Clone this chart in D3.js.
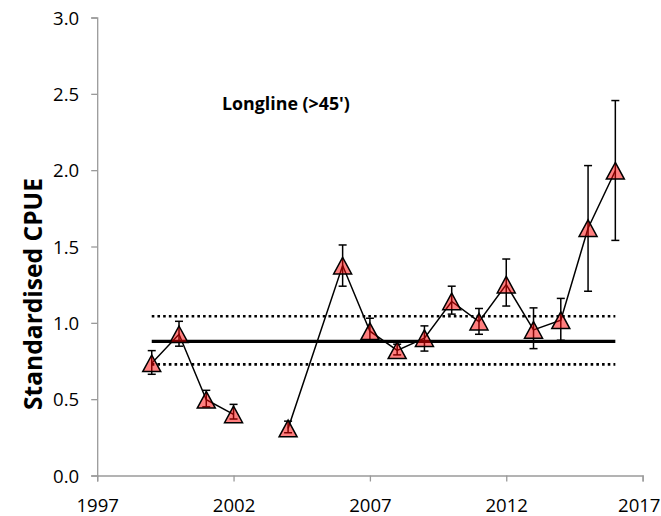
<!DOCTYPE html>
<html><head><meta charset="utf-8">
<script src="https://cdn.jsdelivr.net/npm/d3@7"></script>
<style>body{margin:0;background:#fff}svg{display:block}</style>
</head><body>
<svg id="c" width="661" height="516"></svg>
<script>
const years = [1999,2000,2001,2002,2003,2004,2006,2007,2008,2009,2010,2011,2012,2013,2014,2015,2016];
const cpue  = [0.735,0.925,0.496,0.40,null,0.308,1.375,0.945,0.82,0.90,1.14,1.008,1.25,0.954,1.017,1.62,1.996];
const lower = [0.663,0.847,0.45,0.37,null,0.28,1.24,0.88,0.79,0.815,1.057,0.925,1.11,0.831,0.886,1.207,1.54];
const upper = [0.818,1.01,0.558,0.466,null,0.356,1.51,1.03,0.86,0.98,1.24,1.094,1.418,1.098,1.16,2.03,2.456];
const meanLine = 0.879, upperRef = 1.043, lowerRef = 0.728;
const xTicks = [1997,2002,2007,2012,2017];
const yTicks = [0,0.5,1.0,1.5,2.0,2.5,3.0];
const title = "Longline (>45')";
const yTitle = "Standardised CPUE";

const svg = d3.select("#c");
const font = "'Open Sans', sans-serif";
const x = d3.scaleLinear().domain([1997,2017]).range([97.2,642.6]);
const y = d3.scaleLinear().domain([0,3]).range([475.5,17.5]);

const data = years.map((yr,i)=>({yr, v:cpue[i], lo:lower[i], hi:upper[i]}));
const pts = data.filter(d=>d.v!==null);

function fit(sel, target){
  const n = sel.node(); const fs = parseFloat(sel.style("font-size"));
  const w = n.getComputedTextLength(); if (w>0) sel.style("font-size",(fs*target/w)+"px");
}

// axes
const gx = svg.append("g").attr("transform",`translate(0,${y(0)})`)
  .call(d3.axisBottom(x).tickValues(xTicks).tickFormat(d3.format("d")).tickSizeOuter(0).tickSize(6));
const gy = svg.append("g").attr("transform",`translate(${x(1997)},0)`)
  .call(d3.axisLeft(y).tickValues(yTicks).tickFormat(d3.format(".1f")).tickSizeOuter(0).tickSize(6));
[gx,gy].forEach(g=>{
  g.select(".domain").attr("stroke","#9a9a9a").attr("stroke-width",1.3);
  g.selectAll(".tick line").attr("stroke","#9a9a9a").attr("stroke-width",1.3);
  g.selectAll(".tick text").attr("fill","#000").style("font-family",font).style("font-size","18px");
});
const probe = gx.selectAll(".tick text").filter(d=>d===2002);
fit(probe, 42.5);
const tfs = probe.style("font-size");
gx.selectAll(".tick text").style("font-size",tfs).attr("dy",null).attr("y",36);
// keep last label inside the picture
const last = gx.selectAll(".tick text").filter(d=>d===2017);
const lw = last.node().getComputedTextLength();
const overflow = x(2017) + lw/2 - 660;
if (overflow > 0) last.attr("x", -overflow);
gy.selectAll(".tick text").style("font-size",tfs).attr("x",-18).attr("dy","0.36em");

// reference lines
const ry = [[meanLine,"solid"],[upperRef,"dot"],[lowerRef,"dot"]];
ry.forEach(([v,t])=>{
  svg.append("line").attr("x1",x(1999)).attr("x2",x(2016)).attr("y1",y(v)).attr("y2",y(v))
    .attr("stroke","#000")
    .attr("stroke-width", t==="solid"?3.2:2.6)
    .attr("stroke-dasharray", t==="solid"?null:"2.6,3.1");
});

// connecting line (gap at 2003)
const line = d3.line().defined(d=>d.v!==null).x(d=>x(d.yr)).y(d=>y(d.v));
svg.append("path").datum(data).attr("d",line).attr("fill","none").attr("stroke","#000").attr("stroke-width",1.5);

// error bars
const eb = svg.append("g").attr("stroke","#000").attr("stroke-width",1.5);
pts.forEach(d=>{
  eb.append("line").attr("x1",x(d.yr)).attr("x2",x(d.yr)).attr("y1",y(d.lo)).attr("y2",y(d.hi));
  eb.append("line").attr("x1",x(d.yr)-4).attr("x2",x(d.yr)+4).attr("y1",y(d.lo)).attr("y2",y(d.lo));
  eb.append("line").attr("x1",x(d.yr)-4).attr("x2",x(d.yr)+4).attr("y1",y(d.hi)).attr("y2",y(d.hi));
});

// triangle markers
svg.append("g").selectAll("path").data(pts).join("path")
  .attr("d",d=>{const cx=x(d.yr), cy=y(d.v); return `M${cx},${cy-8.3}L${cx+9},${cy+8.3}L${cx-9},${cy+8.3}Z`;})
  .attr("fill","rgba(255,0,0,0.5)").attr("stroke","#000").attr("stroke-width",1.5).attr("stroke-linejoin","miter");

// titles
const t1 = svg.append("text").attr("x",222).attr("y",110).text(title)
  .style("font-family",font).style("font-size","19px").style("font-weight","bold");
fit(t1, 128);
const t2 = svg.append("text").attr("transform","translate(42,294) rotate(-90)").attr("text-anchor","middle").text(yTitle)
  .style("font-family",font).style("font-size","20px").style("font-weight","bold");
fit(t2, 232);
</script>
</body></html>
